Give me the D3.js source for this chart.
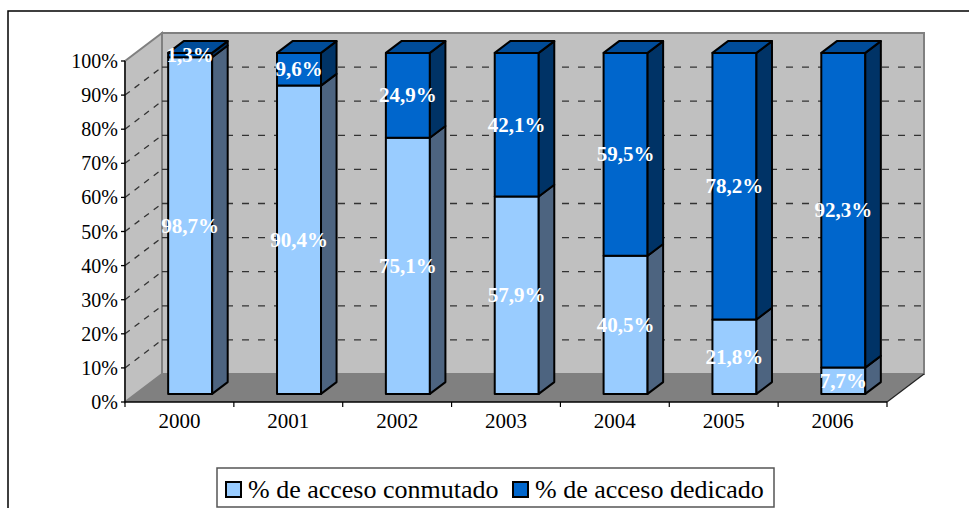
<!DOCTYPE html>
<html>
<head>
<meta charset="utf-8">
<script src="https://cdn.jsdelivr.net/npm/d3@7"></script>
<style>
  body { margin: 0; background: #fff; }
  svg { display: block; }
</style>
</head>
<body>
<svg id="chart" width="969" height="508" font-family="'Liberation Serif', 'DejaVu Serif', serif"></svg>
<script>
// ---- data ----
const years = ["2000", "2001", "2002", "2003", "2004", "2005", "2006"];
const conmutado = [98.7, 90.4, 75.1, 57.9, 40.5, 21.8, 7.7];
const dedicado = [1.3, 9.6, 24.9, 42.1, 59.5, 78.2, 92.3];
const yTicks = [0, 10, 20, 30, 40, 50, 60, 70, 80, 90, 100];
const seriesNames = ["% de acceso conmutado", "% de acceso dedicado"];

// ---- styling ----
const faceColors = ["#99CCFF", "#0066CC"];
const sideColors = ["#4D6480", "#003366"];
const topColors = ["#7AA3CC", "#004C99"];
const wallFill = "#C0C0C0";
const floorFill = "#808080";
const wallEdge = "#808080";

const svg = d3.select("#chart");

// front plane of the plot box
const x = d3.scaleBand().domain(years).range([125, 887]);
const y = d3.scaleLinear().domain([0, 100]).range([402, 61]);

// oblique depth of the box (full depth = 1)
const DX = 37, DY = -28;
const P = (px, v, z) => [px + z * DX, y(v) + z * DY];
const pts = arr => arr.map(p => p.join(",")).join(" ");

// outer frame
svg.append("rect")
  .attr("x", 8).attr("y", 11).attr("width", 1000).attr("height", 600)
  .attr("fill", "none").attr("stroke", "#000").attr("stroke-width", 1.5);

const x0 = x.range()[0], x1 = x.range()[1];

// floor
svg.append("polygon")
  .attr("points", pts([[x0, y(0)], [x1, y(0)], [x1 + DX, y(0) + DY], [x0 + DX, y(0) + DY]]))
  .attr("fill", floorFill).attr("stroke", "none");

// back wall
svg.append("rect")
  .attr("x", x0 + DX).attr("y", y(100) + DY)
  .attr("width", x1 - x0).attr("height", y(0) - y(100))
  .attr("fill", wallFill).attr("stroke", wallEdge).attr("stroke-width", 2);

// side wall
svg.append("polygon")
  .attr("points", pts([[x0, y(100)], [x0 + DX, y(100) + DY], [x0 + DX, y(0) + DY], [x0, y(0)]]))
  .attr("fill", wallFill).attr("stroke", wallEdge).attr("stroke-width", 2);

// floor right edge
svg.append("line")
  .attr("x1", x1).attr("y1", y(0)).attr("x2", x1 + DX).attr("y2", y(0) + DY)
  .attr("stroke", "#222").attr("stroke-width", 1.2);

// gridlines: back wall + side wall
const grid = svg.append("g")
  .attr("stroke", "#333").attr("stroke-width", 1.3).attr("stroke-dasharray", "7,9").attr("fill", "none");
yTicks.filter(v => v > 0 && v < 100).forEach(v => {
  grid.append("line")
    .attr("x1", x0 + DX).attr("x2", x1 + DX)
    .attr("y1", y(v) + DY).attr("y2", y(v) + DY);
  grid.append("line")
    .attr("x1", x0).attr("y1", y(v))
    .attr("x2", x0 + DX).attr("y2", y(v) + DY)
    .attr("stroke-dasharray", "6,6");
});

// y axis
svg.append("line")
  .attr("x1", x0).attr("x2", x0).attr("y1", y(0)).attr("y2", y(100))
  .attr("stroke", "#000").attr("stroke-width", 1.3);
const yAx = svg.append("g");
yTicks.forEach(v => {
  yAx.append("line")
    .attr("x1", x0 - 4).attr("x2", x0).attr("y1", y(v)).attr("y2", y(v))
    .attr("stroke", "#000").attr("stroke-width", 1.3);
  yAx.append("text")
    .attr("x", 118).attr("y", y(v) + 7)
    .attr("text-anchor", "end").attr("font-size", 20).attr("fill", "#000")
    .text(v + "%");
});

// x axis
svg.append("line")
  .attr("x1", x0).attr("x2", x1).attr("y1", y(0)).attr("y2", y(0))
  .attr("stroke", "#000").attr("stroke-width", 1.3);
years.concat([null]).forEach(yr => {
  const px = yr ? x(yr) : x1;
  svg.append("line")
    .attr("x1", px).attr("x2", px).attr("y1", y(0)).attr("y2", y(0) + 5)
    .attr("stroke", "#000").attr("stroke-width", 1.2);
});
years.forEach(yr => {
  svg.append("text")
    .attr("x", x(yr) + x.bandwidth() / 2).attr("y", 428)
    .attr("text-anchor", "middle").attr("font-size", 21).attr("fill", "#000")
    .text(yr);
});

// bars
const barW = 44;
const zFront = 0.29, zBack = 0.71;
const fmt = v => d3.format(".1f")(v).replace(".", ",") + "%";

const bars = svg.append("g")
  .attr("stroke", "#000").attr("stroke-width", 2).attr("stroke-linejoin", "round");
const labels = svg.append("g");

years.forEach((yr, i) => {
  const xl = x(yr) + (x.bandwidth() - barW) / 2;
  const xr = xl + barW;
  const segs = [
    { s: 0, v0: 0, v1: conmutado[i] },
    { s: 1, v0: conmutado[i], v1: conmutado[i] + dedicado[i] }
  ];
  const g = bars.append("g");
  segs.forEach(d => {
    g.append("polygon")
      .attr("points", pts([P(xl, d.v0, zFront), P(xr, d.v0, zFront), P(xr, d.v1, zFront), P(xl, d.v1, zFront)]))
      .attr("fill", faceColors[d.s]);
    g.append("polygon")
      .attr("points", pts([P(xr, d.v0, zFront), P(xr, d.v0, zBack), P(xr, d.v1, zBack), P(xr, d.v1, zFront)]))
      .attr("fill", sideColors[d.s]);
  });
  const top = segs[1];
  g.append("polygon")
    .attr("points", pts([P(xl, top.v1, zFront), P(xr, top.v1, zFront), P(xr, top.v1, zBack), P(xl, top.v1, zBack)]))
    .attr("fill", topColors[top.s]);

  // value labels
  const cx = (P(xl, 0, zFront)[0] + P(xr, 0, zFront)[0]) / 2;
  segs.forEach(d => {
    const cy = (P(xl, d.v0, zFront)[1] + P(xl, d.v1, zFront)[1]) / 2;
    labels.append("text")
      .attr("x", cx).attr("y", cy + 7)
      .attr("text-anchor", "middle").attr("font-size", 21).attr("font-weight", "bold")
      .attr("fill", "#fff")
      .text(fmt(d.v1 - d.v0));
  });
});

// legend
const lg = svg.append("g");
lg.append("rect")
  .attr("x", 217).attr("y", 468).attr("width", 557).attr("height", 39)
  .attr("fill", "#fff").attr("stroke", "#555").attr("stroke-width", 1.5);
const legendX = [226, 513];
seriesNames.forEach((name, i) => {
  lg.append("rect")
    .attr("x", legendX[i]).attr("y", 482).attr("width", 15).attr("height", 15)
    .attr("fill", faceColors[i]).attr("stroke", "#000").attr("stroke-width", 2);
  lg.append("text")
    .attr("x", legendX[i] + 22).attr("y", 498)
    .attr("font-size", 26).attr("fill", "#000")
    .text(name);
});
</script>
</body>
</html>
